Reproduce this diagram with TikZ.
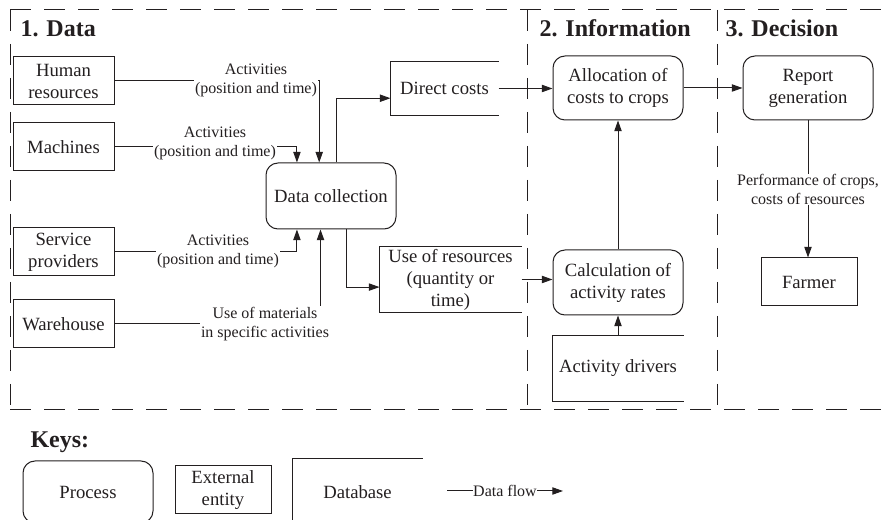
\documentclass[tikz,border=0pt]{standalone}
\usepackage{fontspec}
\setmainfont{Liberation Serif}
\usetikzlibrary{arrows.meta,calc}
\definecolor{ink}{RGB}{35,31,32}
\newcommand{\mainfnt}{\fontsize{14}{16.5}\selectfont}
\newcommand{\lblfnt}{\fontsize{12}{14.25}\selectfont}
\begin{document}
\begin{tikzpicture}[x=0.75pt,y=-0.75pt,line width=0.75pt,
  every node/.style={text=ink},
  ent/.style={draw=ink,minimum width=75.75pt,minimum height=36pt,inner sep=0pt,align=center,font=\mainfnt},
  proc/.style={draw=ink,rounded corners=9pt,minimum width=97.5pt,minimum height=48pt,inner sep=0pt,align=center,font=\mainfnt},
  db/.style={inner sep=0pt,align=center,font=\mainfnt},
  lbl/.style={fill=white,inner sep=0.5pt,align=center,font=\lblfnt},
  flow/.style={draw=ink,-{Triangle[length=8pt,width=5.5pt]}},
  zone/.style={draw=ink,dash pattern=on 15.75pt off 9.75pt},
  title/.style={font=\fontsize{18}{20}\selectfont\bfseries,anchor=base west,inner sep=0pt}]
\clip (0,0) rectangle (883,520);
\fill[white] (0,0) rectangle (883,520);
% zones
\draw[zone] (10,10) -- (883,10);
\draw[zone] (10,410) -- (883,410);
\draw[zone] (10,10) -- (10,410);
\draw[zone] (527,10) -- (527,410);
\draw[zone] (717,10) -- (717,410);
\node[title] (t1) at (20,36.5) {1. Data};
\node[title] (t2) at (539,36.5) {2. Information};
\node[title] (t3) at (725,36.5) {3. Decision};
% nodes
\node[ent] (hr) at (63.5,81) {Human\\resources};
\node[ent] (mach) at (63.5,147) {Machines};
\node[ent] (serv) at (63.5,252) {Service\\providers};
\node[ent] (ware) at (63.5,324) {Warehouse};
\node[proc,minimum height=49.5pt] (dc) at (331,196) {Data collection};
\node[proc] (alloc) at (618,88) {Allocation of\\costs to crops};
\node[proc,minimum height=48.75pt] (calc) at (618,282.5) {Calculation of\\activity rates};
\node[proc] (rep) at (808,88) {Report\\generation};
\node[ent,minimum width=72pt] (farmer) at (809,282) {Farmer};
\node[db,minimum width=80.25pt,minimum height=39.75pt] (direct) at (444.5,88.5) {Direct costs};
\node[db,minimum width=105.75pt,minimum height=48.75pt] (use) at (450.5,279.5) {Use of resources\\(quantity or\\time)};
\node[db,minimum width=97.5pt,minimum height=48.75pt] (drv) at (618,368.5) {Activity drivers};
\foreach \n in {direct,use,drv}
  \draw[ink] (\n.north east) -- (\n.north west) -- (\n.south west) -- (\n.south east);
% flows
\draw[flow] (hr.east) -| ($(dc.north west)!0.41!(dc.north east)$);
\node[lbl] (lhr) at (256,80) {Activities\\(position and time)};
\draw[flow] (mach.east) -| ($(dc.north west)!0.24!(dc.north east)$);
\node[lbl] (lmach) at (215,143) {Activities\\(position and time)};
\draw[flow] (serv.east) -| ($(dc.south west)!0.24!(dc.south east)$);
\node[lbl] (lserv) at (218,251.5) {Activities\\(position and time)};
\draw[flow] (ware.east) -| ($(dc.south west)!0.42!(dc.south east)$);
\node[lbl] (lware) at (265,324) {Use of materials\\in specific activities};
\draw[flow] ($(dc.north west)!0.54!(dc.north east)$) |- ($(direct.north west)!0.68!(direct.south west)$);
\draw[flow] ($(dc.south west)!0.615!(dc.south east)$) |- ($(use.north west)!0.615!(use.south west)$);
\draw[flow] (direct.east) -- (direct.east -| alloc.west);
\draw[flow] (use.east) -- (use.east -| calc.west);
\draw[flow] (calc.north) -- (alloc.south);
\draw[flow] (drv.north) -- (calc.south);
\draw[flow] (alloc.east) -- (rep.west);
\draw[flow] (rep.south) -- (rep.south |- farmer.north);
\node[lbl] (lrep) at (808,189.5) {Performance of crops,\\costs of resources};
% keys
\node[title] (keys) at (30,448) {Keys:};
\node[proc,minimum height=46.5pt] (kproc) at (88,492) {Process};
\node[ent,minimum width=72pt] (kent) at (223,490) {External\\entity};
\node[db,minimum width=96.75pt,minimum height=49.5pt] (kdb) at (357.5,492) {Database};
\draw[ink] (kdb.north east) -- (kdb.north west) -- (kdb.south west);
\node[inner sep=0pt,font=\lblfnt] (kflow) at (505,491) {Data flow};
\coordinate (kfs) at (447,491);
\coordinate (kfe) at (563,491);
\draw[ink] (kfs) -- (kflow.west);
\draw[flow] (kflow.east) -- (kfe);
\end{tikzpicture}
\end{document}
